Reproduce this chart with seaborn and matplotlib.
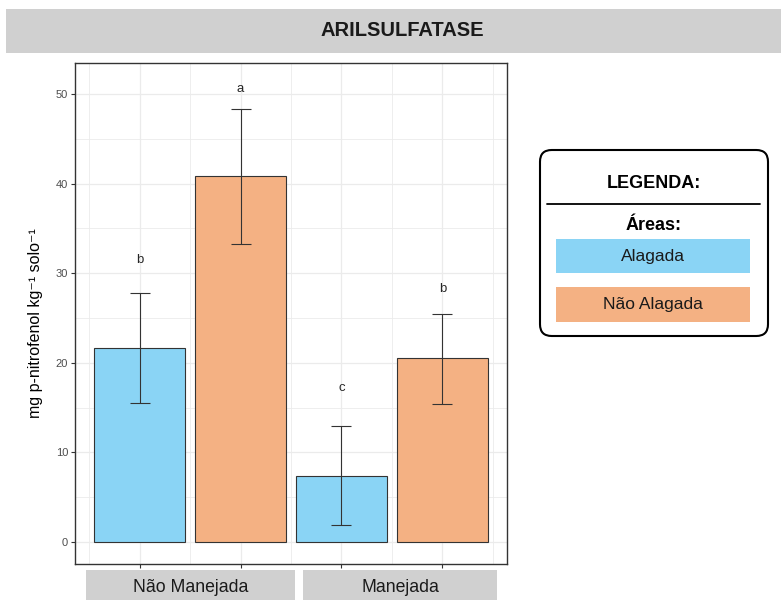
import matplotlib
matplotlib.use("Agg")
import matplotlib.pyplot as plt
from matplotlib.patches import Rectangle, FancyBboxPatch
from matplotlib.lines import Line2D
import seaborn as sns
import pandas as pd
import numpy as np

# ---- data ----
groups = ["Não Manejada", "Não Manejada", "Manejada", "Manejada"]
areas = ["Alagada", "Não Alagada", "Alagada", "Não Alagada"]
keys = ["NM-A", "NM-NA", "M-A", "M-NA"]
means = [21.6, 40.8, 7.4, 20.5]
lower = [15.5, 33.3, 1.9, 15.4]
upper = [27.8, 48.3, 13.0, 25.4]
letters = ["b", "a", "c", "b"]
letter_y = [31.5, 50.6, 17.2, 28.2]
y_ticks = [0, 10, 20, 30, 40, 50]
title = "ARILSULFATASE"
ylabel = "mg p-nitrofenol kg⁻¹ solo⁻¹"
facet_labels = ["Não Manejada", "Manejada"]
legend_title = "LEGENDA:"
legend_sub = "Áreas:"
area_levels = ["Alagada", "Não Alagada"]
colors = {"Alagada": "#8AD4F5", "Não Alagada": "#F4B183"}

df = pd.DataFrame({"key": keys, "group": groups, "area": areas, "mean": means,
                   "lower": lower, "upper": upper})

sns.set_theme(style="white")
plt.rcParams["font.family"] = ["Liberation Sans", "DejaVu Sans"]

W, H = 781, 600
fig = plt.figure(figsize=(W / 100, H / 100), dpi=100)
fig.patch.set_facecolor("white")

def fx(px):
    return px / W

def fy(py):
    return 1 - py / H

ax = fig.add_axes([fx(75), fy(564), fx(507) - fx(75), fy(63) - fy(564)])

sns.barplot(data=df, x="key", y="mean", hue="area", order=keys, hue_order=area_levels,
            palette=colors, saturation=1, dodge=False, width=0.9, errorbar=None,
            legend=False, edgecolor="#333333", linewidth=0.8, ax=ax, zorder=3)

xs = np.arange(len(keys))
m = np.array(means)
err = np.vstack([m - np.array(lower), np.array(upper) - m])
ax.errorbar(xs, m, yerr=err, fmt="none", ecolor="#333333", elinewidth=0.8,
            capsize=7.2, capthick=0.8, zorder=4)

for x, t, yy in zip(xs, letters, letter_y):
    ax.text(x, yy, t, ha="center", va="center", fontsize=9.5, color="#262626", zorder=5)

ax.set_xlim(-0.639, 3.639)
ax.set_ylim(-2.455, 53.46)
ax.set_yticks(y_ticks)
ax.set_yticks([5, 15, 25, 35, 45], minor=True)
ax.set_xticks(xs)
ax.set_xticks([-0.5, 0.5, 1.5, 2.5, 3.5], minor=True)
ax.set_xticklabels([])
ax.set_xlabel("")
ax.tick_params(axis="y", which="major", labelsize=8, labelcolor="#4D4D4D",
               length=3, width=0.8, color="#333333", pad=2, left=True)
ax.tick_params(axis="x", which="major", length=3, width=0.8, color="#333333", bottom=True)
ax.tick_params(which="minor", length=0)
ax.grid(True, which="major", color="#EBEBEB", linewidth=0.9, zorder=0)
ax.grid(True, which="minor", color="#EBEBEB", linewidth=0.6, zorder=0)
ax.set_axisbelow(True)
for s in ax.spines.values():
    s.set_visible(True)
    s.set_color("#333333")
    s.set_linewidth(1.0)

ax.set_ylabel(ylabel, fontsize=11.5, color="black")
ax.yaxis.set_label_coords(-0.075, 0.48)

# title strip
fig.patches.append(Rectangle((fx(6), fy(53)), 1 - fx(6), fy(9) - fy(53),
                             transform=fig.transFigure, facecolor="#D0D0D0",
                             edgecolor="none"))
fig.text(fx(402), fy(31), title, ha="center", va="center", fontsize=14.5,
         fontweight="bold", color="#1a1a1a")

# facet strips at the bottom
strips = [(86, 295), (303, 497)]
for (x0, x1), lab in zip(strips, facet_labels):
    fig.patches.append(Rectangle((fx(x0), 0), fx(x1) - fx(x0), fy(570),
                                 transform=fig.transFigure, facecolor="#D0D0D0",
                                 edgecolor="none"))
    fig.text(fx((x0 + x1) / 2), fy(588), lab, ha="center", va="center",
             fontsize=12.7, color="#1a1a1a")

# legend box
fig.patches.append(FancyBboxPatch((fx(540), fy(336)), fx(768) - fx(540), fy(150) - fy(336),
                                  boxstyle="round,pad=0,rounding_size=0.015",
                                  transform=fig.transFigure, facecolor="white",
                                  edgecolor="black", linewidth=1.5,
                                  mutation_aspect=W / H))
fig.text(fx(654), fy(184), legend_title, ha="center", va="center", fontsize=13,
         fontweight="bold", color="black")
fig.lines.append(Line2D([fx(547), fx(760)], [fy(204), fy(204)], transform=fig.transFigure,
                        color="black", linewidth=1.3))
fig.text(fx(654), fy(225), legend_sub, ha="center", va="center", fontsize=13,
         fontweight="bold", color="black")
boxes = [(239, 273), (287, 322)]
for (y0, y1), lev in zip(boxes, area_levels):
    fig.patches.append(Rectangle((fx(556), fy(y1)), fx(750) - fx(556), fy(y0) - fy(y1),
                                 transform=fig.transFigure, facecolor=colors[lev],
                                 edgecolor="none"))
    fig.text(fx(653), fy((y0 + y1) / 2), lev, ha="center", va="center",
             fontsize=12.5, color="#1a1a1a")

fig.savefig("out.png", dpi=100)
